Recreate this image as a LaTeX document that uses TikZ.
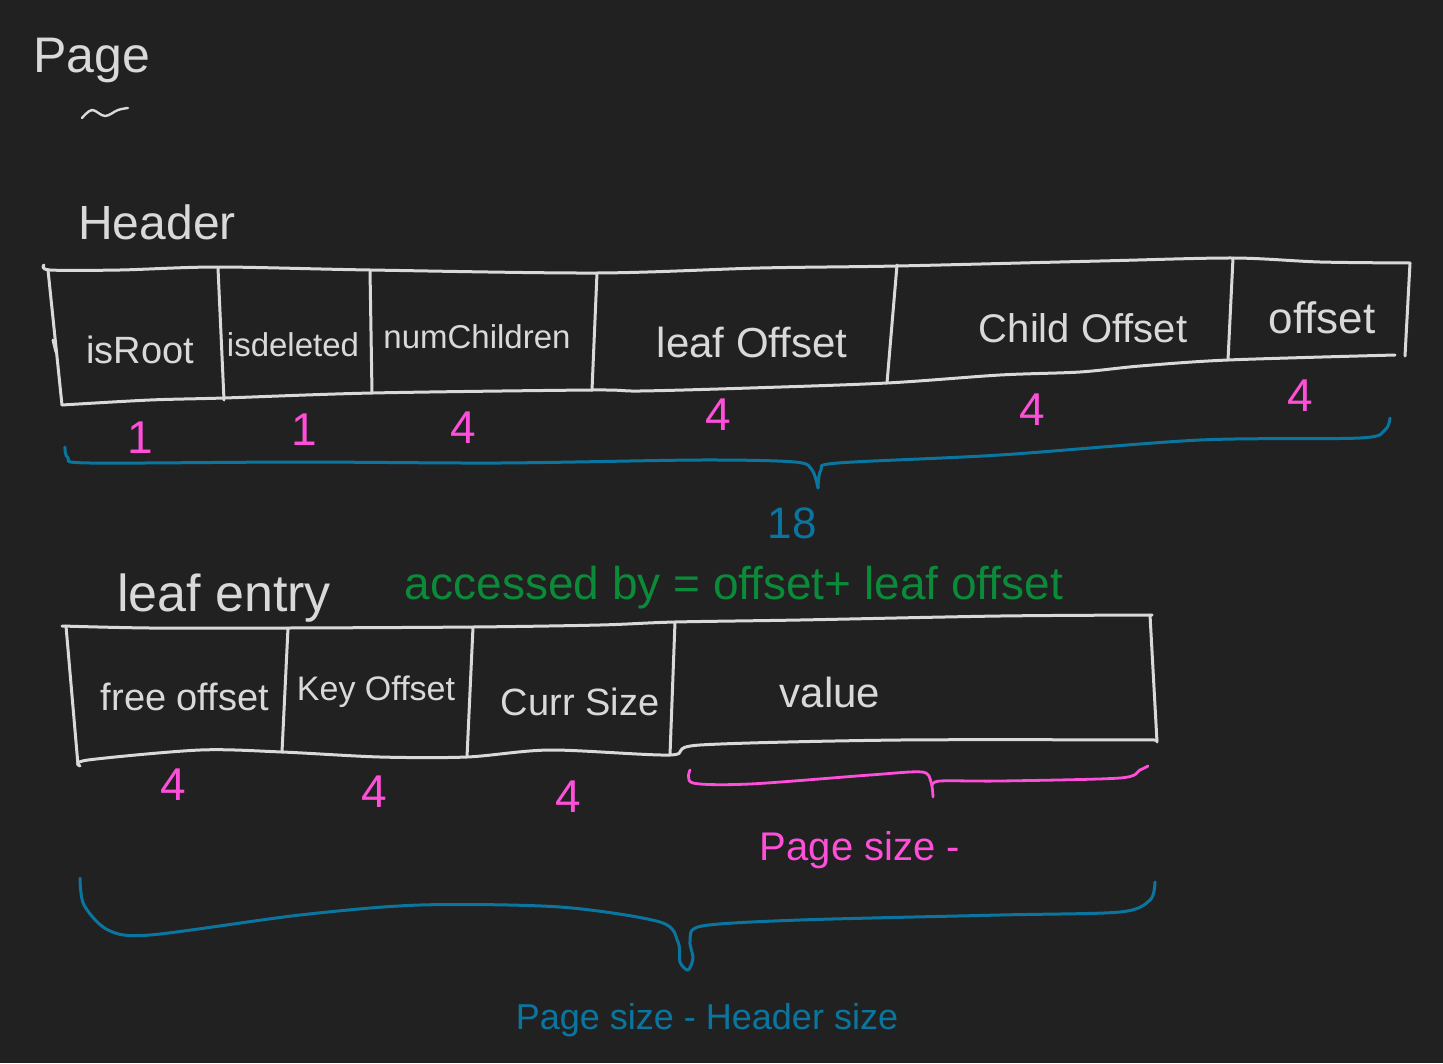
\documentclass[tikz,border=0pt]{standalone}
\usepackage{fontspec}
\setmainfont{Liberation Sans}
\definecolor{bg}{HTML}{212121}
\definecolor{ink}{HTML}{D9D9D9}
\definecolor{pinkink}{HTML}{FF4FDA}
\definecolor{blueink}{HTML}{0A76A0}
\definecolor{greenink}{HTML}{0B8A3A}
\newcommand{\fs}[1]{\fontsize{#1}{#1}\selectfont}
\begin{document}
\begin{tikzpicture}[x=1pt,y=-1pt,line cap=round,line join=round,
  edge/.style={draw=ink,line width=3pt},
  bluebrace/.style={draw=blueink,line width=3pt},
  pinkbrace/.style={draw=pinkink,line width=2.8pt},
  lbl/.style={text=ink,inner sep=0pt},
  num/.style={text=pinkink,inner sep=0pt,font=\fs{46}},
  bluetext/.style={text=blueink,inner sep=0pt},
  greentext/.style={text=greenink,inner sep=0pt},
  pinktext/.style={text=pinkink,inner sep=0pt}]
\fill[bg] (0,0) rectangle (1443,1063);
\useasboundingbox (0,0) rectangle (1443,1063);

% title
\node[lbl,font=\fs{50}] (page) at (92,60) {Page};
\draw[edge,line width=2.4pt] plot[smooth,tension=0.6] coordinates {(82,118) (92,110) (105,116) (118,110) (128,108)};

% header
\node[lbl,font=\fs{48}] (header) at (157,222) {Header};
\draw[edge] plot[smooth,tension=0.5] coordinates {(44,265) (50,270) (120,270) (218,267) (370,270) (597,273) (760,268) (897,266) (1100,261) (1233,258) (1320,262) (1410,263)};
\draw[edge] (48,270) -- (62,405);
\draw[edge] (53,340) -- (56,352);
\draw[edge] plot[smooth,tension=0.5] coordinates {(62,405) (150,400) (224,398) (372,393) (592,390) (640,391) (750,388) (887,383) (1000,375) (1080,372) (1140,366) (1228,360) (1395,355)};
\draw[edge] (1410,263) -- (1405,356);
\draw[edge] (218,268) -- (224,400);
\draw[edge] (370,270) -- (372,393);
\draw[edge] (597,273) -- (592,390);
\draw[edge] (897,265) -- (887,383);
\draw[edge] (1233,258) -- (1228,360);

\node[lbl,font=\fs{38}] (isroot) at (140,350) {isRoot};
\node[lbl,font=\fs{33}] (isdeleted) at (293,345) {isdeleted};
\node[lbl,font=\fs{33}] (numchildren) at (477,337) {numChildren};
\node[lbl,font=\fs{42}] (leafoffset) at (752,342) {leaf Offset};
\node[lbl,font=\fs{40}] (childoffset) at (1083,328) {Child Offset};
\node[lbl,font=\fs{44}] (offset) at (1322,318) {offset};

\node[num] (n1) at (140,438) {1};
\node[num] (n2) at (304,430) {1};
\node[num] (n3) at (463,428) {4};
\node[num] (n4) at (718,415) {4};
\node[num] (n5) at (1032,410) {4};
\node[num] (n6) at (1300,396) {4};

\draw[bluebrace] plot[smooth,tension=0.5] coordinates {(65,447) (68,458) (90,463) (300,462) (500,463) (700,460) (795,462) (812,470) (818,488)};
\draw[bluebrace] plot[smooth,tension=0.5] coordinates {(818,488) (821,470) (838,463) (1000,455) (1200,440) (1360,438) (1385,430) (1390,418)};
\node[bluetext,font=\fs{44}] (eighteen) at (792,523) {18};

% leaf entry
\node[lbl,font=\fs{52}] (leafentry) at (224,598) {leaf entry};
\node[greentext,font=\fs{46}] (accessed) at (734,588) {accessed by = offset+ leaf offset};

\draw[edge] plot[smooth,tension=0.5] coordinates {(62,626) (150,628) (288,628) (473,627) (600,625) (675,622) (800,620) (1000,616) (1152,615)};
\draw[edge] (1150,615) -- (1157,742);
\draw[edge] (66,626) -- (78,765);
\draw[edge] plot[smooth,tension=0.5] coordinates {(80,766) (88,760) (200,750) (282,752) (380,757) (467,757) (550,750) (670,755) (700,745) (900,740) (1157,740)};
\draw[edge] (288,628) -- (282,752);
\draw[edge] (473,627) -- (467,757);
\draw[edge] (675,622) -- (670,755);

\node[lbl,font=\fs{38}] (freeoffset) at (185,697) {free offset};
\node[lbl,font=\fs{34}] (keyoffset) at (376,692) {Key Offset};
\node[lbl,font=\fs{38}] (currsize) at (580,702) {Curr Size};
\node[lbl,font=\fs{42}] (value) at (830,692) {value};

\node[num] (m1) at (173,785) {4};
\node[num] (m2) at (374,792) {4};
\node[num] (m3) at (568,797) {4};

\draw[pinkbrace] plot[smooth,tension=0.5] coordinates {(690,770) (693,783) (750,784) (870,775) (922,772) (931,782) (933,797)};
\draw[pinkbrace] plot[smooth,tension=0.5] coordinates {(932,786) (940,781) (1000,781) (1120,778) (1140,770) (1148,766)};
\node[pinktext,font=\fs{40}] (pagesize) at (860,850) {Page size -};

\draw[bluebrace] plot[smooth,tension=0.5] coordinates {(80,878) (84,905) (108,930) (150,935) (300,915) (420,905) (560,907) (660,922) (678,942) (680,962) (688,970) (693,958) (690,940) (702,926) (800,920) (1000,915) (1120,912) (1150,900) (1155,882)};
\node[bluetext,font=\fs{36}] (pagehdr) at (707,1020) {Page size - Header size};
\end{tikzpicture}
\end{document}
